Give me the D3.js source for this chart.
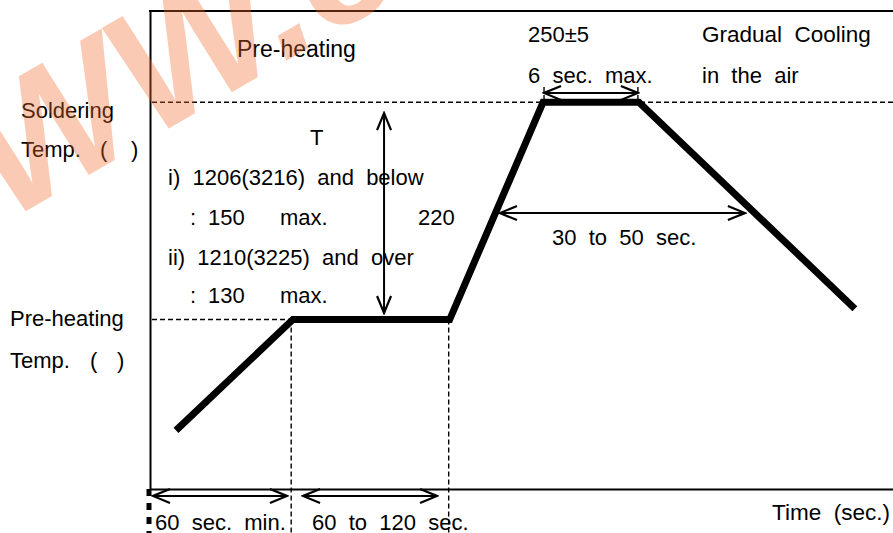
<!DOCTYPE html>
<html><head><meta charset="utf-8">
<script src="https://cdn.jsdelivr.net/npm/d3@7"></script>
<style>
html,body{margin:0;padding:0;background:#fff;overflow:hidden}
svg{display:block}
text{font-family:"Liberation Sans",Arial,sans-serif;white-space:pre;fill:#000}
</style></head><body>
<svg id="chart" width="893" height="533"></svg>
<script>
// Reflow soldering profile (schematic): time in seconds, temperature in °C
const profileTime = [10.5, 57.7, 121, 158.7, 197.4, 284.6];
const profileTemp = [99, 150, 150, 250, 250, 155];

// reference levels and phase boundaries
const solderingTemp = 250;
const preheatTemp = 150;
const phaseBounds = [57, 120.6];

// double-headed dimension arrows: [t1, T1, t2, T2]
const dimArrows = [
  [94.5, 245, 94.5, 153],      // ΔT
  [141.3, 199, 240.2, 199],    // 30 to 50 sec.
  [159.1, 254.3, 197.0, 254.3],// 6 sec. max.
  [1.2, 68.8, 55.3, 68.8],     // 60 sec. min.
  [61.8, 68.8, 115.9, 68.8]    // 60 to 120 sec.
];
const peakTicks = [159.1, 197.0];

// annotation strings
const topLabels = ["Pre-heating", "250±5", "Gradual  Cooling", "6  sec.  max.", "in  the  air"];
const noteLabels = ["T", "i)  1206(3216)  and  below", "ii)  1210(3225)  and  over", "220", "30  to  50  sec."];
const limitValues = ["150", "130"];
const timeLabels = ["60  sec.  min.", "60  to  120  sec.", "Time  (sec.)"];
const axisLabels = ["Soldering", "Pre-heating"];

const W = 893, H = 533;
const svg = d3.select("#chart");
const x = d3.scaleLinear().domain([0, 300]).range([150, 893]);
const y = d3.scaleLinear().domain([72, 292]).range([489, 11]);

// arrowhead marker (open V)
svg.append("defs").append("marker")
  .attr("id", "head").attr("markerUnits", "userSpaceOnUse")
  .attr("viewBox", "-20 -10 22 20").attr("refX", 0).attr("refY", 0)
  .attr("markerWidth", 22).attr("markerHeight", 20)
  .attr("orient", "auto-start-reverse")
  .append("path").attr("d", "M-17,-7L0,0L-17,7")
  .attr("fill", "none").attr("stroke", "#000").attr("stroke-width", 2.2);

// frame: bottom and left axes without ticks, plus top border
const gx = svg.append("g").attr("transform", `translate(0,${y(72)})`)
  .call(d3.axisBottom(x).tickValues([]).tickSizeOuter(0));
const gy = svg.append("g").attr("transform", `translate(${x(0)},0)`)
  .call(d3.axisLeft(y).tickValues([]).tickSizeOuter(0));
[gx, gy].forEach(g => g.select(".domain").attr("stroke", "#000").attr("stroke-width", 2));
svg.append("line").attr("x1", x(0) - 1).attr("x2", W).attr("y1", y(292)).attr("y2", y(292))
  .attr("stroke", "#000").attr("stroke-width", 2);

// dashed guide lines
const dash = g => g.attr("stroke", "#000").attr("stroke-width", 1.4).attr("stroke-dasharray", "5,3").attr("fill", "none");
svg.append("line").attr("x1", x(0) + 2).attr("x2", W).attr("y1", y(solderingTemp)).attr("y2", y(solderingTemp)).call(dash);
svg.append("line").attr("x1", x(0) + 2).attr("x2", x(phaseBounds[0])).attr("y1", y(preheatTemp)).attr("y2", y(preheatTemp)).call(dash);
phaseBounds.forEach(t => {
  svg.append("line").attr("x1", x(t)).attr("x2", x(t)).attr("y1", y(preheatTemp)).attr("y2", H).call(dash);
});
peakTicks.forEach(t => {
  svg.append("line").attr("x1", x(t)).attr("x2", x(t)).attr("y1", y(257)).attr("y2", y(251)).call(dash);
});
// heavy dashed continuation of the temperature axis below the time axis
svg.append("line").attr("x1", x(0) - 1).attr("x2", x(0) - 1).attr("y1", y(72)).attr("y2", H)
  .attr("stroke", "#000").attr("stroke-width", 5).attr("stroke-dasharray", "7,7");

// temperature profile
const pts = profileTime.map((t, i) => [t, profileTemp[i]]);
svg.append("path").datum(pts)
  .attr("d", d3.line().x(d => x(d[0])).y(d => y(d[1])))
  .attr("fill", "none").attr("stroke", "#000").attr("stroke-width", 7)
  .attr("stroke-linejoin", "miter").attr("stroke-linecap", "butt");

// dimension arrows
svg.selectAll("line.dim").data(dimArrows).join("line").attr("class", "dim")
  .attr("x1", d => x(d[0])).attr("y1", d => y(d[1]))
  .attr("x2", d => x(d[2])).attr("y2", d => y(d[3]))
  .attr("stroke", "#000").attr("stroke-width", 2)
  .attr("marker-start", "url(#head)").attr("marker-end", "url(#head)");

// text
const fs = 22;
const txt = (s, px, py, size) => svg.append("text").attr("x", px).attr("y", py)
  .attr("font-size", size || fs).text(s);

txt(topLabels[0], 237, 57, 23);
txt(topLabels[1], 528, 42);
txt(topLabels[2], 702, 42, 22.5);
txt(topLabels[3], 528, 83);
txt(topLabels[4], 702, 83);

txt(axisLabels[0], 21, 118);
const t1 = svg.append("text").attr("y", 157).attr("font-size", fs);
t1.append("tspan").attr("x", 21).text("Temp.");
t1.append("tspan").attr("x", 100).text("(");
t1.append("tspan").attr("x", 131).text(")");

txt(axisLabels[1], 10, 326);
const t2 = svg.append("text").attr("y", 368).attr("font-size", fs);
t2.append("tspan").attr("x", 10).text("Temp.");
t2.append("tspan").attr("x", 90).text("(");
t2.append("tspan").attr("x", 117).text(")");

txt(noteLabels[0], 310, 145);
txt(noteLabels[1], 168, 185);
txt(noteLabels[2], 168, 265);
txt(noteLabels[3], 418, 225);
txt(noteLabels[4], 552, 245);
[[limitValues[0], 225], [limitValues[1], 303]].forEach(([v, py]) => {
  const t = svg.append("text").attr("y", py).attr("font-size", fs);
  t.append("tspan").attr("x", 190).text(":");
  t.append("tspan").attr("x", 208).text(v);
  t.append("tspan").attr("x", 280).text("max.");
});

txt(timeLabels[0], 155, 530);
txt(timeLabels[1], 312, 530);
txt(timeLabels[2], 772, 520, 22.5);

// site watermark
svg.append("text").attr("transform", "translate(-135,304) rotate(-30)")
  .attr("font-size", 175).attr("font-weight", "bold").attr("font-style", "italic")
  .style("fill", "#f26b2a").attr("opacity", 0.35).text("WWW.e");
</script>
</body></html>
